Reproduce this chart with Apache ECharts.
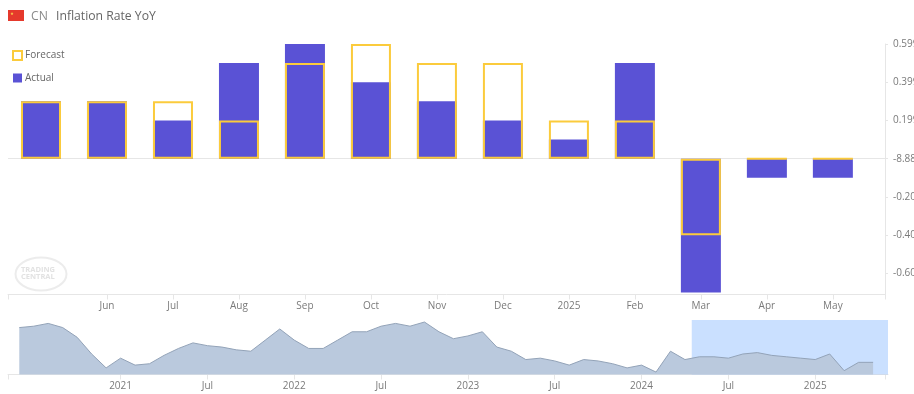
<!DOCTYPE html>
<html><head><meta charset="utf-8">
<style>html,body{margin:0;padding:0;background:#fff;overflow:hidden}#c{width:914px;height:394px}</style>
<script src="https://cdn.jsdelivr.net/npm/echarts@6/dist/echarts.min.js"></script>
</head><body><div id="c"></div>
<script>
const monthLabels = ['', 'Jun', 'Jul', 'Aug', 'Sep', 'Oct', 'Nov', 'Dec', '2025', 'Feb', 'Mar', 'Apr', 'May'];
const actual = [0.3, 0.3, 0.2, 0.5, 0.6, 0.4, 0.3, 0.2, 0.1, 0.5, -0.7, -0.1, -0.1];
const forecast = [0.3, 0.3, 0.3, 0.2, 0.5, 0.6, 0.5, 0.5, 0.2, 0.2, -0.4, 0, 0];
const yTicks = [0.6, 0.4, 0.2, 0, -0.2, -0.4, -0.6];
const yTickText = ['0.599', '0.399', '0.199', '-8.88', '-0.20', '-0.40', '-0.60'];
const history = [2.4, 2.5, 2.7, 2.4, 1.7, 0.5, -0.5, 0.2, -0.3, -0.2, 0.4, 0.9, 1.3, 1.1, 1.0, 0.8, 0.7, 1.5, 2.3, 1.5,
  0.9, 0.9, 1.5, 2.1, 2.1, 2.5, 2.7, 2.5, 2.8, 2.1, 1.6, 1.8, 2.1, 1.0, 0.7, 0.1, 0.2, 0, -0.3, 0.1,
  0, -0.2, -0.5, -0.3, -0.8, 0.7, 0.1, 0.3, 0.3, 0.2, 0.5, 0.6, 0.4, 0.3, 0.2, 0.1, 0.5, -0.7, -0.1, -0.1];
const navTickIndex = [7, 13, 19, 25, 31, 37, 43, 49, 55];
const navTickText = ['2021', 'Jul', '2022', 'Jul', '2023', 'Jul', '2024', 'Jul', '2025'];
const selectedRange = [46.47, 60.03];

const font = '"Open Sans", "Noto Sans", sans-serif';
const labelColor = '#7a7a7a', axisColor = '#e6e6e6';
const mainMin = -0.5, mainMax = 12.79, navMin = -0.78, navMax = 60.03;
const mainTicks = monthLabels.map((_, i) => i).slice(1);

const chart = echarts.init(document.getElementById('c'), null, {renderer: 'canvas'});
chart.setOption({
  animation: false,
  backgroundColor: '#fff',
  textStyle: {fontFamily: font},
  title: {
    left: 31, top: 11, padding: 0,
    text: '{a|CN}{b|Inflation Rate YoY}',
    textStyle: {fontWeight: 'normal', rich: {
      a: {fontFamily: font, fontSize: 12.2, fontWeight: 'normal', color: '#8a8a8a', width: 25},
      b: {fontFamily: font, fontSize: 12.2, fontWeight: 'normal', color: '#666'}
    }}
  },
  legend: {
    left: 12, top: 50, padding: 0, orient: 'vertical', itemWidth: 9, itemHeight: 9, itemGap: 12,
    icon: 'rect', selectedMode: false, data: ['Forecast', 'Actual'],
    textStyle: {fontFamily: font, fontSize: 10, color: '#666', padding: [1, 0, 0, -2]}
  },
  grid: [
    {left: 8, right: 29, top: 44, bottom: 99.5, outerBoundsMode: 'none'},
    {left: 8, right: 26, top: 320, bottom: 19.5, outerBoundsMode: 'none'}
  ],
  xAxis: [
    {
      type: 'value', gridIndex: 0, min: mainMin, max: mainMax, splitLine: {show: false},
      axisLine: {onZero: false, lineStyle: {color: axisColor}},
      axisTick: {length: 5, lineStyle: {color: axisColor}, customValues: [mainMin, ...mainTicks, mainMax]},
      axisLabel: {
        customValues: mainTicks, color: labelColor, fontSize: 10, margin: 7, fontFamily: font,
        formatter: v => monthLabels[Math.round(v)] || ''
      }
    },
    {
      type: 'value', gridIndex: 1, min: navMin, max: navMax, splitLine: {show: false},
      axisLine: {onZero: false, lineStyle: {color: axisColor}},
      axisTick: {length: 5, lineStyle: {color: axisColor}, customValues: [navMin, ...navTickIndex, 59.82]},
      axisLabel: {
        customValues: navTickIndex, color: labelColor, fontSize: 10, margin: 7, fontFamily: font,
        formatter: v => navTickText[navTickIndex.indexOf(Math.round(v))] || ''
      }
    }
  ],
  yAxis: [
    {
      type: 'value', gridIndex: 0, position: 'right', min: -0.71, max: 0.6, splitLine: {show: false},
      axisLine: {show: true, onZero: false, lineStyle: {color: axisColor}},
      axisTick: {show: true, length: 3, lineStyle: {color: axisColor}, customValues: yTicks},
      axisLabel: {
        customValues: yTicks, color: labelColor, fontSize: 10, margin: 8, fontFamily: font, hideOverlap: false,
        formatter: v => yTickText[yTicks.findIndex(t => Math.abs(t - v) < 1e-6)] || ''
      }
    },
    {
      type: 'value', gridIndex: 1, min: -0.975, max: 2.946,
      splitLine: {show: false}, axisLine: {show: false}, axisTick: {show: false}, axisLabel: {show: false}
    }
  ],
  series: [
    {
      name: 'Actual', type: 'bar', xAxisIndex: 0, yAxisIndex: 0, barWidth: 40, barGap: '-100%', z: 2,
      data: actual.map((v, i) => [i, v]),
      itemStyle: {color: '#5a52d5', borderWidth: 0},
      markLine: {
        silent: true, symbol: 'none', z: 1, label: {show: false}, animation: false,
        lineStyle: {color: axisColor, width: 1, type: 'solid'}, data: [{yAxis: 0}]
      }
    },
    {
      name: 'Forecast', type: 'bar', xAxisIndex: 0, yAxisIndex: 0, barWidth: 40, barGap: '-100%', z: 3,
      data: forecast.map((v, i) => [i, v]),
      itemStyle: {color: 'rgba(255,255,255,0)', borderColor: '#fbcb3c', borderWidth: 2}
    },
    {
      name: 'History', type: 'line', xAxisIndex: 1, yAxisIndex: 1, symbol: 'none', z: 2,
      data: history.map((v, i) => [i, v]),
      lineStyle: {color: '#93a3b8', width: 1},
      areaStyle: {color: '#bac9dd', opacity: 1, origin: 'start'},
      markArea: {
        silent: true, itemStyle: {color: 'rgba(122,178,255,0.4)'},
        data: [[{xAxis: selectedRange[0]}, {xAxis: selectedRange[1]}]]
      }
    }
  ],
  graphic: [
    {type: 'rect', left: 8, top: 10, shape: {width: 16, height: 11}, style: {fill: '#e5392c'}},
    {type: 'polygon', left: 10.5, top: 12, shape: {points: [[1.5, 0], [2, 1.2], [3, 1.2], [2.2, 2], [2.5, 3], [1.5, 2.4], [.5, 3], [.8, 2], [0, 1.2], [1, 1.2]]}, style: {fill: '#f8d24a'}},
    {type: 'ellipse', left: 13, top: 255, shape: {cx: 26.5, cy: 17.5, rx: 25.5, ry: 16.5}, style: {fill: 'none', stroke: '#ececec', lineWidth: 2}},
    {type: 'text', left: 21, top: 265.5, style: {text: 'TRADING\nCENTRAL', fill: '#e2e2e2', fontSize: 7.5, fontWeight: 'bold', lineHeight: 7.5, fontFamily: font}}
  ]
});
</script></body></html>
